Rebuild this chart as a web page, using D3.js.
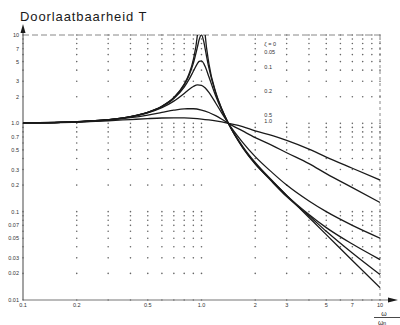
<!DOCTYPE html>
<html>
<head>
<meta charset="utf-8">
<script src="https://cdn.jsdelivr.net/npm/d3@7/dist/d3.min.js"></script>
<style>
  html, body { margin: 0; padding: 0; background: #fff; }
  svg { display: block; font-family: "Liberation Sans", Arial, sans-serif; }
</style>
</head>
<body>
<svg id="chart" width="400" height="325"></svg>
<script>
// [frequency ratio ω/ωn, transmissibility T], one array per damping ratio
const zeta0 = [[0.1, 1.01], [0.2, 1.042], [0.3, 1.099], [0.4, 1.19], [0.5, 1.333], [0.6, 1.563],
  [0.7, 1.961], [0.8, 2.778], [0.85, 3.6], [0.9, 5.26], [0.95, 10.3], [0.97, 16.9], [0.99, 50],
  [1.01, 49.8], [1.03, 16.4], [1.05, 9.76], [1.1, 4.76], [1.2, 2.27], [1.3, 1.45], [1.414, 1.0],
  [1.7, 0.53], [2, 0.345], [2.5, 0.22], [3, 0.153], [4, 0.086], [5, 0.055], [7, 0.028], [10, 0.0138]];
const zeta005 = [[0.1, 1.01], [0.2, 1.042], [0.3, 1.099], [0.4, 1.19], [0.5, 1.332], [0.6, 1.558],
  [0.7, 1.947], [0.8, 2.72], [0.85, 3.46], [0.9, 4.78], [0.95, 7.39], [0.97, 8.85], [1.0, 10.05],
  [1.03, 8.4], [1.05, 6.86], [1.1, 4.24], [1.2, 2.21], [1.3, 1.44], [1.414, 1.0],
  [1.7, 0.535], [2, 0.35], [2.5, 0.215], [3, 0.148], [4, 0.09], [5, 0.06], [7, 0.034], [10, 0.0194]];
const zeta01 = [[0.1, 1.01], [0.2, 1.041], [0.3, 1.098], [0.4, 1.189], [0.5, 1.328], [0.6, 1.547],
  [0.7, 1.909], [0.8, 2.571], [0.85, 3.12], [0.9, 3.88], [0.95, 4.77], [0.97, 5.02], [1.0, 5.1],
  [1.03, 4.75], [1.05, 4.37], [1.1, 3.37], [1.2, 2.05], [1.3, 1.4], [1.414, 1.0],
  [1.7, 0.55], [2, 0.36], [2.5, 0.222], [3, 0.153], [4, 0.093], [5, 0.066], [7, 0.043], [10, 0.0287]];
const zeta02 = [[0.1, 1.01], [0.2, 1.041], [0.3, 1.097], [0.4, 1.184], [0.5, 1.314], [0.6, 1.505],
  [0.7, 1.785], [0.8, 2.18], [0.85, 2.41], [0.9, 2.61], [0.95, 2.727], [1.0, 2.693], [1.05, 2.51],
  [1.1, 2.24], [1.2, 1.7], [1.3, 1.305], [1.414, 1.0],
  [1.7, 0.61], [2, 0.42], [2.5, 0.275], [3, 0.2], [4, 0.132], [5, 0.1], [7, 0.07], [10, 0.0502]];
const zeta05 = [[0.1, 1.01], [0.2, 1.04], [0.3, 1.09], [0.4, 1.158], [0.5, 1.24], [0.6, 1.329],
  [0.7, 1.409], [0.8, 1.46], [0.9, 1.463], [1.0, 1.414], [1.1, 1.327], [1.2, 1.222], [1.3, 1.114],
  [1.414, 1.0], [1.7, 0.82], [2, 0.69], [2.5, 0.56], [3, 0.465], [4, 0.35], [5, 0.27], [7, 0.187], [10, 0.127]];
const zeta1 = [[0.1, 1.01], [0.2, 1.036], [0.3, 1.07], [0.4, 1.104], [0.5, 1.131], [0.6, 1.149],
  [0.7, 1.155], [0.8, 1.15], [0.9, 1.138], [1.0, 1.118], [1.1, 1.093], [1.2, 1.066], [1.3, 1.036],
  [1.414, 1.0], [1.7, 0.92], [2, 0.82], [2.5, 0.725], [3, 0.64], [4, 0.51], [5, 0.415], [7, 0.31], [10, 0.228]];

const dampingLabels = ['ζ = 0', '0.05', '0.1', '0.2', '0.5', '1.0'];
const dampingLabelT = [7.9, 6.4, 4.35, 2.33, 1.25, 1.07];

const yTickValues = [10, 7, 5, 3, 2, 1, 0.7, 0.5, 0.3, 0.2, 0.1, 0.07, 0.05, 0.03, 0.02, 0.01];
const yTickLabels = ['10', '7', '5', '3', '2', '1.0', '0.7', '0.5', '0.3', '0.2', '0.1',
  '0.07', '0.05', '0.03', '0.02', '0.01'];
const xTickValues = [0.1, 0.2, 0.5, 1, 2, 3, 5, 7, 10];
const xTickLabels = ['0.1', '0.2', '0.5', '1.0', '2', '3', '5', '7', '10'];

const svg = d3.select('#chart');
const ink = '#1a1a1a';

const x = d3.scaleLog().domain([0.1, 10]).range([23, 380]);
const y = d3.scaleLog().domain([0.01, 10]).range([300, 35]);

svg.append('defs').append('clipPath').attr('id', 'plot')
  .append('rect')
  .attr('x', x(0.1)).attr('y', y(10))
  .attr('width', x(10) - x(0.1)).attr('height', y(0.01) - y(10));

// dotted grid: a dot at every minor decade intersection
const grid = svg.append('g');
const gx = x.ticks(), gy = y.ticks();
grid.selectAll('circle')
  .data(d3.cross(gx, gy))
  .join('circle')
  .attr('cx', d => x(d[0]))
  .attr('cy', d => y(d[1]))
  .attr('r', 0.8)
  .attr('fill', '#666');

// top border (T = 10) and right border (ω/ωn = 10), dashed
svg.append('line')
  .attr('x1', x(0.1)).attr('x2', x(10)).attr('y1', y(10)).attr('y2', y(10))
  .attr('stroke', '#888').attr('stroke-width', 1).attr('stroke-dasharray', '6,3');
svg.append('line')
  .attr('x1', x(10)).attr('x2', x(10)).attr('y1', y(10)).attr('y2', y(0.01))
  .attr('stroke', '#888').attr('stroke-width', 1).attr('stroke-dasharray', '3,3');

// axes with arrow heads
svg.append('line')
  .attr('x1', x(0.1)).attr('x2', 388).attr('y1', y(0.01)).attr('y2', y(0.01))
  .attr('stroke', '#777').attr('stroke-width', 1.2);
svg.append('path')
  .attr('d', `M${388},${y(0.01) - 2.5}L${398},${y(0.01)}L${388},${y(0.01) + 2.5}Z`)
  .attr('fill', ink);
svg.append('line')
  .attr('x1', x(0.1)).attr('x2', x(0.1)).attr('y1', y(0.01)).attr('y2', 30)
  .attr('stroke', '#666').attr('stroke-width', 1.2);
svg.append('path')
  .attr('d', `M${x(0.1) - 2.5},${33}L${x(0.1)},${24}L${x(0.1) + 2.5},${33}Z`)
  .attr('fill', ink);

// tick labels
svg.append('g').selectAll('text')
  .data(yTickValues)
  .join('text')
  .attr('x', 19)
  .attr('y', d => y(d) + 2)
  .attr('text-anchor', 'end')
  .attr('font-size', 5.5)
  .attr('fill', '#333')
  .text((d, i) => yTickLabels[i]);

svg.append('g').selectAll('text')
  .data(xTickValues)
  .join('text')
  .attr('x', d => x(d))
  .attr('y', 307)
  .attr('text-anchor', 'middle')
  .attr('font-size', 5.5)
  .attr('fill', '#333')
  .text((d, i) => xTickLabels[i]);

// transmissibility curves
const line = d3.line()
  .x(d => x(d[0]))
  .y(d => y(d[1]))
  .curve(d3.curveMonotoneX);

svg.append('g')
  .attr('clip-path', 'url(#plot)')
  .selectAll('path')
  .data([zeta0, zeta005, zeta01, zeta02, zeta05, zeta1])
  .join('path')
  .attr('d', line)
  .attr('fill', 'none')
  .attr('stroke', ink)
  .attr('stroke-width', 1.3);

// damping ratio labels
svg.append('g').selectAll('text')
  .data(dampingLabels)
  .join('text')
  .attr('x', x(2.25))
  .attr('y', (d, i) => y(dampingLabelT[i]) + 2)
  .attr('font-size', 5.5)
  .attr('fill', '#333')
  .text(d => d);

// title and x-axis label ω / ωn
svg.append('text')
  .attr('x', 20).attr('y', 21)
  .attr('font-size', 13)
  .attr('letter-spacing', 0.9)
  .attr('fill', ink)
  .text('Doorlaatbaarheid T');

svg.append('text')
  .attr('x', 384).attr('y', 315.5)
  .attr('text-anchor', 'middle')
  .attr('font-size', 7)
  .attr('fill', ink)
  .text('ω');
svg.append('line')
  .attr('x1', 374).attr('x2', 400).attr('y1', 317.5).attr('y2', 317.5)
  .attr('stroke', ink).attr('stroke-width', 0.8);
const wn = svg.append('text')
  .attr('x', 382).attr('y', 324.5)
  .attr('text-anchor', 'middle')
  .attr('font-size', 7)
  .attr('fill', ink);
wn.append('tspan').text('ω');
wn.append('tspan').attr('font-size', 5).attr('dy', 0.5).text('n');
</script>
</body>
</html>
